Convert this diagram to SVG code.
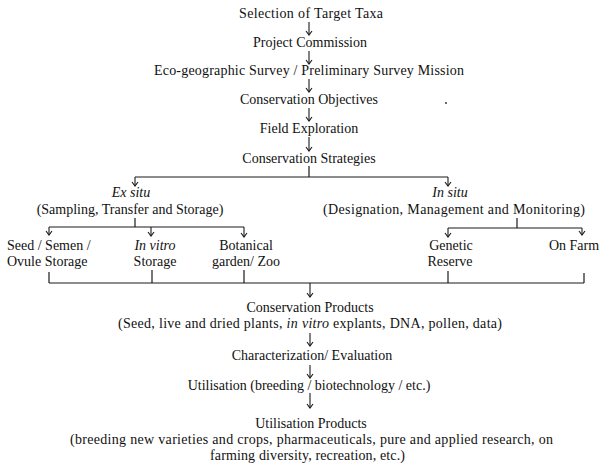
<svg xmlns="http://www.w3.org/2000/svg" width="605" height="465" viewBox="0 0 605 465">
<defs>
<style>
text{font-family:"Liberation Serif","Times New Roman",serif;font-size:14px;fill:#111}
.c{text-anchor:middle}
.i{font-style:italic}
.ln{stroke:#1a1a1a;stroke-width:1.2;fill:none}
.ar{stroke:#1a1a1a;stroke-width:1.1;fill:none;marker-end:url(#ah)}
</style>
<marker id="ah" viewBox="0 0 6 8" refX="5" refY="4" markerWidth="6" markerHeight="8" markerUnits="userSpaceOnUse" orient="auto">
<path d="M1,1 L5,4 L1,7" fill="none" stroke="#1a1a1a" stroke-width="1.1"/>
</marker>
</defs>
<rect width="605" height="465" fill="#fff"/>

<g id="connectors">
<line class="ar" x1="309" y1="22" x2="309" y2="35"/>
<line class="ar" x1="309" y1="51" x2="309" y2="64"/>
<line class="ar" x1="309" y1="79" x2="309" y2="92"/>
<line class="ar" x1="309" y1="108" x2="309" y2="121"/>
<line class="ar" x1="309" y1="137" x2="309" y2="151"/>
<line class="ln" x1="309" y1="166" x2="309" y2="177"/>
<line class="ln" x1="135" y1="177" x2="448" y2="177"/>
<line class="ar" x1="135" y1="177" x2="135" y2="186"/>
<line class="ar" x1="448" y1="177" x2="448" y2="186"/>
<line class="ln" x1="135" y1="218" x2="135" y2="227"/>
<line class="ln" x1="49" y1="227" x2="244" y2="227"/>
<line class="ar" x1="49" y1="227" x2="49" y2="235"/>
<line class="ar" x1="151" y1="227" x2="151" y2="236"/>
<line class="ar" x1="244" y1="227" x2="244" y2="237"/>
<line class="ln" x1="517" y1="218" x2="517" y2="228"/>
<line class="ln" x1="448" y1="228" x2="582" y2="228"/>
<line class="ar" x1="448" y1="228" x2="448" y2="237"/>
<line class="ar" x1="582" y1="228" x2="582" y2="235"/>
<line class="ln" x1="49" y1="272" x2="49" y2="283"/>
<line class="ln" x1="152" y1="270" x2="152" y2="283"/>
<line class="ln" x1="244" y1="270" x2="244" y2="283"/>
<line class="ln" x1="448" y1="271" x2="448" y2="283"/>
<line class="ln" x1="584" y1="273" x2="584" y2="283"/>
<line class="ln" x1="49" y1="283" x2="584" y2="283"/>
<line class="ar" x1="310" y1="283" x2="310" y2="297"/>
<line class="ar" x1="310" y1="333" x2="310" y2="346"/>
<line class="ar" x1="310" y1="365" x2="310" y2="378"/>
<line class="ar" x1="310" y1="393" x2="310" y2="408"/>
</g>

<g id="selection"><text class="c" x="311" y="18" textLength="144" lengthAdjust="spacing">Selection of Target Taxa</text></g>
<g id="project"><text class="c" x="310" y="47">Project Commission</text></g>
<g id="survey"><text class="c" x="309" y="75" textLength="310" lengthAdjust="spacing">Eco-geographic Survey / Preliminary Survey Mission</text></g>
<g id="objectives"><text class="c" x="309" y="104">Conservation Objectives</text><circle cx="446" cy="103" r="0.9" fill="#222"/></g>
<g id="exploration"><text class="c" x="309" y="133">Field Exploration</text></g>
<g id="strategies"><text class="c" x="309" y="163">Conservation Strategies</text></g>

<g id="exsitu"><text class="c i" x="131" y="197">Ex situ</text><text class="c" x="130" y="214">(Sampling, Transfer and Storage)</text></g>
<g id="insitu"><text class="c i" x="450" y="197">In situ</text><text class="c" x="454" y="214" textLength="262" lengthAdjust="spacing">(Designation, Management and Monitoring)</text></g>

<g id="seed"><text x="7" y="250">Seed / Semen /</text><text x="7" y="266">Ovule Storage</text></g>
<g id="invitro"><text class="c i" x="155" y="250">In vitro</text><text class="c" x="155" y="266">Storage</text></g>
<g id="botanical"><text class="c" x="246" y="250">Botanical</text><text class="c" x="246" y="266">garden/ Zoo</text></g>
<g id="genetic"><text class="c" x="451" y="250">Genetic</text><text class="c" x="450" y="266">Reserve</text></g>
<g id="onfarm"><text class="c" x="574" y="250">On Farm</text></g>

<g id="products"><text class="c" x="310" y="312">Conservation Products</text><text class="c" x="310" y="328" textLength="384" lengthAdjust="spacing">(Seed, live and dried plants, <tspan class="i">in vitro</tspan> explants, DNA, pollen, data)</text></g>
<g id="characterization"><text class="c" x="312" y="360">Characterization/ Evaluation</text></g>
<g id="utilisation"><text class="c" x="309" y="390">Utilisation (breeding / biotechnology / etc.)</text></g>
<g id="utilproducts"><text class="c" x="311" y="428">Utilisation Products</text><text class="c" x="311.5" y="444" textLength="483" lengthAdjust="spacing">(breeding new varieties and crops, pharmaceuticals, pure and applied research, on</text><text class="c" x="307.5" y="460" textLength="195" lengthAdjust="spacing">farming diversity, recreation, etc.)</text></g>
</svg>
